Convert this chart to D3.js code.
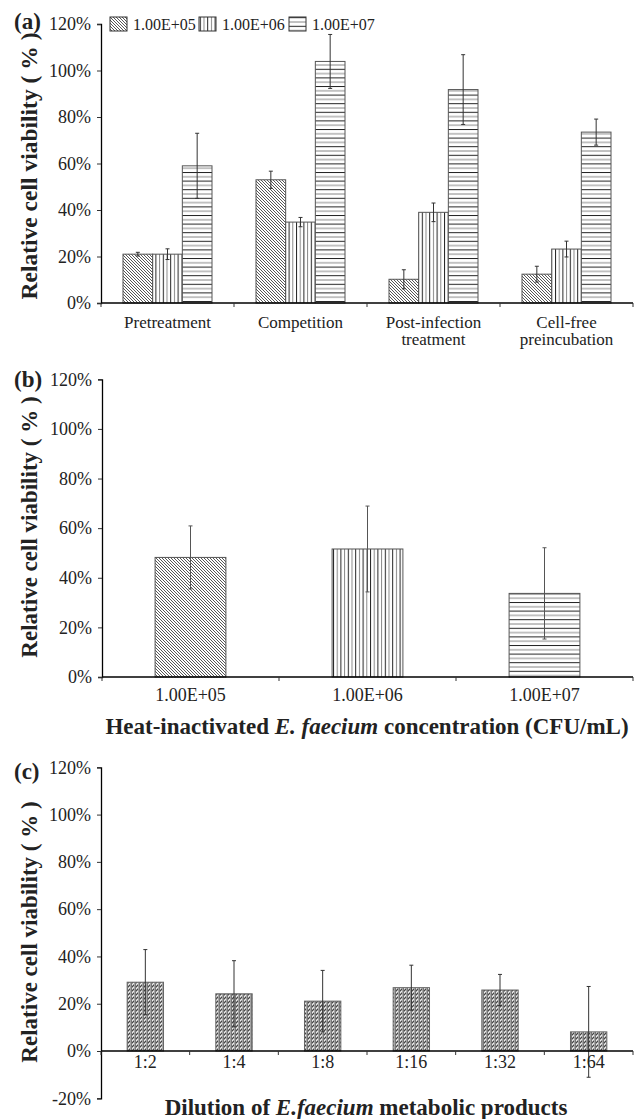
<!DOCTYPE html>
<html><head><meta charset="utf-8">
<script src="https://cdn.jsdelivr.net/npm/d3@7"></script>
<style>
body{margin:0;background:#fff}
svg{display:block}
text{font-family:"Liberation Serif","Times New Roman",serif;fill:#222}
</style>
</head><body>
<svg id="chart" width="638" height="1119"></svg>
<script>
// ---------- DATA ----------
const groupsA = ["Pretreatment", "Competition", "Post-infection|treatment", "Cell-free|preincubation"];
const seriesA = ["1.00E+05", "1.00E+06", "1.00E+07"];
const valsA_1e5 = [21.0, 53.0, 10.2, 12.4];
const errA_1e5  = [0.8, 3.7, 4.1, 3.4];
const valsA_1e6 = [21.0, 34.8, 39.0, 23.2];
const errA_1e6  = [2.3, 2.0, 4.0, 3.4];
const valsA_1e7 = [59.0, 103.9, 91.8, 73.5];
const errA_1e7  = [14.0, 11.6, 15.0, 5.6];

const catsB = ["1.00E+05", "1.00E+06", "1.00E+07"];
const valsB = [48.2, 51.6, 33.7];
const errB  = [12.7, 17.3, 18.4];

const catsC = ["1:2", "1:4", "1:8", "1:16", "1:32", "1:64"];
const valsC = [29.1, 24.2, 21.1, 26.8, 25.8, 8.1];
const errC  = [13.8, 14.0, 13.0, 9.5, 6.6, 19.2];

const ticksAB = [0, 20, 40, 60, 80, 100, 120];
const ticksC  = [-20, 0, 20, 40, 60, 80, 100, 120];

// ---------- SETUP ----------
const svg = d3.select("#chart");
const defs = svg.append("defs");

const pDiag = defs.append("pattern").attr("id","pDiag").attr("patternUnits","userSpaceOnUse")
  .attr("width",3).attr("height",3);
pDiag.append("rect").attr("width",3).attr("height",3).attr("fill","#fff");
pDiag.append("path").attr("d","M-1,-1L4,4M-1,2L1,4M2,-1L4,1").attr("stroke","#444").attr("stroke-width",0.9);

const pVert = defs.append("pattern").attr("id","pVert").attr("patternUnits","userSpaceOnUse")
  .attr("width",7.4).attr("height",4);
pVert.append("rect").attr("width",7.4).attr("height",4).attr("fill","#fff");
pVert.append("line").attr("x1",0.5).attr("x2",0.5).attr("y1",0).attr("y2",4).attr("stroke","#222").attr("stroke-width",1);
pVert.append("line").attr("x1",4.2).attr("x2",4.2).attr("y1",0).attr("y2",4).attr("stroke","#888").attr("stroke-width",1);

const pHorz = defs.append("pattern").attr("id","pHorz").attr("patternUnits","userSpaceOnUse")
  .attr("width",4).attr("height",8.6);
pHorz.append("rect").attr("width",4).attr("height",8.6).attr("fill","#fff");
pHorz.append("line").attr("y1",0.5).attr("y2",0.5).attr("x1",0).attr("x2",4).attr("stroke","#222").attr("stroke-width",1);
pHorz.append("line").attr("y1",4.8).attr("y2",4.8).attr("x1",0).attr("x2",4).attr("stroke","#888").attr("stroke-width",1);

const pDot = defs.append("pattern").attr("id","pDot").attr("patternUnits","userSpaceOnUse")
  .attr("width",4).attr("height",4);
pDot.append("rect").attr("width",4).attr("height",4).attr("fill","#a4a4a4");
pDot.append("rect").attr("x",0).attr("y",0).attr("width",1).attr("height",1).attr("fill","#f0f0f0");
pDot.append("rect").attr("x",1).attr("y",1).attr("width",1).attr("height",1).attr("fill","#444");
pDot.append("rect").attr("x",0).attr("y",2).attr("width",1).attr("height",1).attr("fill","#444");
pDot.append("rect").attr("x",1).attr("y",3).attr("width",1).attr("height",1).attr("fill","#f0f0f0");
pDot.append("rect").attr("x",3).attr("y",0).attr("width",1).attr("height",4).attr("fill","#777");

const fillsA = {"1.00E+05":"url(#pDiag)","1.00E+06":"url(#pVert)","1.00E+07":"url(#pHorz)"};

function drawYAxis(y, ticks, x0) {
  const g = svg.append("g").attr("transform",`translate(${x0},0)`)
    .call(d3.axisLeft(y).tickValues(ticks).tickSize(4).tickPadding(6).tickFormat(d=>d+"%"));
  g.select(".domain").attr("stroke","#000").attr("stroke-width",1.3);
  g.selectAll(".tick line").attr("stroke","#333");
  g.selectAll(".tick text").attr("font-size",18).attr("fill","#222");
  return g;
}
function drawXAxisLine(xScale, y0, x0, x1) {
  svg.append("line").attr("x1",x0).attr("x2",x1).attr("y1",y0).attr("y2",y0)
    .attr("stroke","#000").attr("stroke-width",1.3);
  const bounds = xScale.domain().map(d=>xScale(d)).concat([xScale.range()[1]]);
  svg.append("g").selectAll("line").data(bounds).join("line")
    .attr("x1",d=>d).attr("x2",d=>d).attr("y1",y0).attr("y2",y0+4)
    .attr("stroke","#333").attr("stroke-width",1);
}
function errBar(g, cx, y, v, e, color) {
  g.append("line").attr("x1",cx).attr("x2",cx).attr("y1",y(v+e)).attr("y2",y(v-e)).attr("stroke",color).attr("stroke-width",1);
  g.append("line").attr("x1",cx-2).attr("x2",cx+2).attr("y1",y(v+e)).attr("y2",y(v+e)).attr("stroke",color).attr("stroke-width",1);
  g.append("line").attr("x1",cx-2).attr("x2",cx+2).attr("y1",y(v-e)).attr("y2",y(v-e)).attr("stroke",color).attr("stroke-width",1);
}
function yLabel(cy, size) {
  svg.append("text").attr("transform",`translate(37,${cy}) rotate(-90)`)
    .attr("text-anchor","middle").attr("font-weight","bold").attr("font-size",size)
    .attr("fill","#111").text("Relative cell viability ( % )");
}
function panelLabel(t, yb) {
  svg.append("text").attr("x",14).attr("y",yb).attr("font-weight","bold").attr("font-size",23)
    .attr("fill","#111").text(t);
}

// ---------- PANEL A ----------
const yA = d3.scaleLinear([0,120],[303,24]);
const xA = d3.scaleBand(groupsA,[101,633]);
const xInA = d3.scaleBand(seriesA,[22,111]);
const seriesDataA = [
  {s:seriesA[0], v:valsA_1e5, e:errA_1e5},
  {s:seriesA[1], v:valsA_1e6, e:errA_1e6},
  {s:seriesA[2], v:valsA_1e7, e:errA_1e7}
];
const gA = svg.append("g");
seriesDataA.forEach(sd=>{
  groupsA.forEach((gname,i)=>{
    const x = xA(gname)+xInA(sd.s);
    gA.append("rect").attr("x",x).attr("y",yA(sd.v[i])).attr("width",xInA.bandwidth())
      .attr("height",yA(0)-yA(sd.v[i])).attr("fill",fillsA[sd.s]).attr("stroke","#555").attr("stroke-width",1);
  });
});
seriesDataA.forEach(sd=>{
  groupsA.forEach((gname,i)=>{
    errBar(gA, xA(gname)+xInA(sd.s)+xInA.bandwidth()/2, yA, sd.v[i], sd.e[i], "#333");
  });
});
drawYAxis(yA, ticksAB, 101);
drawXAxisLine(xA, 303, 101, 633);
groupsA.forEach(gname=>{
  const lines = gname.split("|");
  lines.forEach((l,k)=>{
    svg.append("text").attr("text-anchor","middle").attr("font-size",17).attr("fill","#222")
      .attr("x",xA(gname)+xA.bandwidth()/2).attr("y",328+k*17).text(l);
  });
});
const legX = [110, 199, 289];
seriesA.forEach((s,i)=>{
  svg.append("rect").attr("x",legX[i]).attr("y",17).attr("width",17).attr("height",14)
    .attr("fill",fillsA[s]).attr("stroke","#333").attr("stroke-width",1);
  svg.append("text").attr("x",legX[i]+23).attr("y",30).attr("font-size",16).attr("fill","#222").text(s);
});
yLabel(166, 23.5);
panelLabel("(a)", 29);

// ---------- PANEL B ----------
const yB = d3.scaleLinear([0,120],[677,379.3]);
const xB = d3.scaleBand(catsB,[102,633]);
const bwB = xB.bandwidth()*0.4;
const gB = svg.append("g");
catsB.forEach((c,i)=>{
  const cx = xB(c)+xB.bandwidth()/2;
  gB.append("rect").attr("x",cx-bwB/2).attr("y",yB(valsB[i])).attr("width",bwB)
    .attr("height",yB(0)-yB(valsB[i])).attr("fill",fillsA[seriesA[i]]).attr("stroke","#555").attr("stroke-width",1);
});
catsB.forEach((c,i)=>{
  errBar(gB, xB(c)+xB.bandwidth()/2, yB, valsB[i], errB[i], "#555");
});
drawYAxis(yB, ticksAB, 102);
drawXAxisLine(xB, 677, 102, 633);
catsB.forEach(c=>{
  svg.append("text").attr("x",xB(c)+xB.bandwidth()/2).attr("y",701).attr("text-anchor","middle")
    .attr("font-size",18).attr("fill","#222").text(c);
});
const tB = svg.append("text").attr("x",367).attr("y",734).attr("text-anchor","middle")
  .attr("font-size",23).attr("font-weight","bold").attr("fill","#111");
tB.append("tspan").text("Heat-inactivated ");
tB.append("tspan").attr("font-style","italic").text("E. faecium");
tB.append("tspan").text(" concentration (CFU/mL)");
yLabel(527, 23);
panelLabel("(b)", 387);

// ---------- PANEL C ----------
const yC = d3.scaleLinear([-20,120],[1098.3,767.3]);
const xC = d3.scaleBand(catsC,[101,633]);
const bwC = xC.bandwidth()*0.41;
const gC = svg.append("g");
catsC.forEach((c,i)=>{
  const cx = xC(c)+xC.bandwidth()/2;
  gC.append("rect").attr("x",cx-bwC/2).attr("y",yC(valsC[i])).attr("width",bwC)
    .attr("height",yC(0)-yC(valsC[i])).attr("fill","url(#pDot)").attr("stroke","#666").attr("stroke-width",1);
});
drawYAxis(yC, ticksC, 101);
drawXAxisLine(xC, yC(0), 101, 633);
catsC.forEach((c,i)=>{
  errBar(gC, xC(c)+xC.bandwidth()/2, yC, valsC[i], errC[i], "#333");
});
catsC.forEach(c=>{
  svg.append("text").attr("x",xC(c)+xC.bandwidth()/2).attr("y",1068).attr("text-anchor","middle")
    .attr("font-size",18).attr("fill","#222").text(c);
});
const tC = svg.append("text").attr("x",366).attr("y",1115).attr("text-anchor","middle")
  .attr("font-size",23).attr("font-weight","bold").attr("fill","#111");
tC.append("tspan").text("Dilution of ");
tC.append("tspan").attr("font-style","italic").text("E.faecium");
tC.append("tspan").text(" metabolic products");
yLabel(932, 23);
panelLabel("(c)", 779);
</script>
</body></html>
